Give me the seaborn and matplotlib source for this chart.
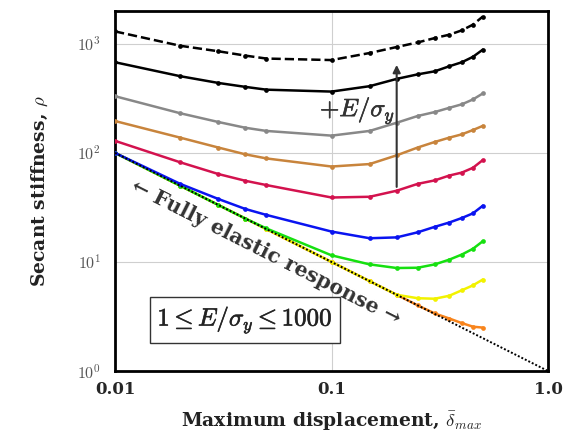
import numpy as np
import pandas as pd
import matplotlib
matplotlib.use("Agg")
import matplotlib.pyplot as plt
import matplotlib.patheffects as pe
import seaborn as sns

# ---------------- data ----------------
delta = [0.01, 0.02, 0.03, 0.04, 0.05, 0.1, 0.15, 0.2, 0.25, 0.3, 0.35, 0.4, 0.45, 0.5]

rho_orange = [100, 50, 33.3, 25, 20, 10, 6.67, 5.0, 4.0, 3.37, 3.03, 2.75, 2.55, 2.5]
rho_yellow = [100, 50, 33.3, 25, 20, 10, 6.67, 5.0, 4.65, 4.6, 4.9, 5.5, 6.1, 6.9]
rho_green = [100, 50, 33.3, 25, 20.3, 11.5, 9.5, 8.8, 8.85, 9.5, 10.5, 11.7, 13.2, 15.5]
rho_blue = [100, 52, 37.8, 30.6, 27, 19, 16.5, 16.8, 18.7, 21, 23, 25.3, 27.9, 32.8]
rho_red = [129, 82, 64, 55.5, 50.7, 39, 39.6, 45, 52, 56, 62, 66, 73, 86]
rho_tan = [196, 138, 112, 97, 89, 75, 79, 95, 112, 126, 138, 148, 162, 177]
rho_gray = [331, 231, 192, 170, 159, 144, 159, 189, 218, 237, 259, 279, 309, 351]
rho_black = [678, 505, 438, 403, 380, 365, 409, 477, 525, 560, 623, 678, 760, 885]
rho_dashed = [1300, 960, 855, 780, 733, 710, 824, 935, 1030, 1130, 1213, 1330, 1500, 1780]

elastic_x = [0.01, 1.0]
elastic_y = [100, 1]

x_ticks = [0.01, 0.1, 1.0]
x_ticklabels = ["0.01", "0.1", "1.0"]
y_ticks = [1, 10, 100, 1000]
y_ticklabels = [r"$10^{0}$", r"$10^{1}$", r"$10^{2}$", r"$10^{3}$"]

series = [
    ("orange", rho_orange, "#F8841C", "-"),
    ("yellow", rho_yellow, "#F2F200", "-"),
    ("green", rho_green, "#16E010", "-"),
    ("blue", rho_blue, "#0A14F0", "-"),
    ("red", rho_red, "#D3124E", "-"),
    ("tan", rho_tan, "#C8843C", "-"),
    ("gray", rho_gray, "#888888", "-"),
    ("black", rho_black, "#000000", "-"),
    ("dashed", rho_dashed, "#000000", "--"),
]

# ---------------- style ----------------
sns.set_theme(style="white")
plt.rcParams["font.family"] = ["DejaVu Serif", "Liberation Serif"]
plt.rcParams["mathtext.fontset"] = "cm"

fig = plt.figure(figsize=(5.7, 4.37), dpi=100)
ax = fig.add_axes([0.2018, 0.151, 0.7596, 0.8238])

for name, vals, col, ls in series:
    df = pd.DataFrame({"delta": delta, "rho": vals})
    sns.lineplot(data=df, x="delta", y="rho", ax=ax, color=col, linewidth=1.8,
                 linestyle=ls, marker="o", markersize=3.4, markeredgewidth=0,
                 markerfacecolor=col, zorder=3,
                 **({"dashes": (4, 2.5)} if ls == "--" else {}))

sns.lineplot(x=elastic_x, y=elastic_y, ax=ax, color="black", linewidth=1.4,
             linestyle=(0, (1, 1)), zorder=5)

ax.set_xscale("log")
ax.set_yscale("log")
ax.set_xlim(0.01, 1.0)
ax.set_ylim(1, 2000)

ax.set_xticks(x_ticks)
ax.set_xticklabels(x_ticklabels, fontsize=12, fontweight="bold")
ax.set_yticks(y_ticks)
ax.set_yticklabels(y_ticklabels, fontsize=11.5, color="#555555")
ax.minorticks_off()
ax.tick_params(axis="both", direction="in", length=3, width=0.8)
ax.tick_params(axis="y", pad=10)
ax.tick_params(axis="x", pad=7)

ax.grid(True, which="major", color="#cfcfcf", linewidth=0.8)
ax.set_axisbelow(True)
for s in ax.spines.values():
    s.set_linewidth(2.0)
    s.set_color("black")

bold_fx = [pe.withStroke(linewidth=0.45, foreground="#333333")]

ax.set_xlabel(r"Maximum displacement, $\bar{\delta}_{max}$", fontsize=13.5,
              fontweight="bold", labelpad=8, color="#222222")
ax.set_ylabel(r"Secant stiffness, $\rho$", fontsize=13.5, fontweight="bold",
              labelpad=20, color="#222222")

# arrow +E/sigma_y
ax.annotate("", xy=(0.2, 680), xytext=(0.2, 46),
            arrowprops=dict(arrowstyle="-|>", color="#333333", lw=1.5,
                            mutation_scale=11), zorder=6)
ax.text(0.197, 245, r"$+E/\sigma_y$", fontsize=18, ha="right", va="center",
        color="#333333", zorder=6, path_effects=bold_fx)

# fully elastic response label
ax.text(0.0498, 12.2, "← Fully elastic response →", fontsize=14.8,
        fontweight="bold", rotation=-26.8, rotation_mode="anchor",
        ha="center", va="center", color="#333333", zorder=6)

# range box
ax.text(0.300, 0.142, r"$1 \leq E/\sigma_y \leq 1000$", transform=ax.transAxes,
        fontsize=18, ha="center", va="center", zorder=6, color="#222222",
        path_effects=bold_fx,
        bbox=dict(boxstyle="square,pad=0.3", fc="white", ec="#333333", lw=1.0))

fig.savefig("out.png", dpi=100)
